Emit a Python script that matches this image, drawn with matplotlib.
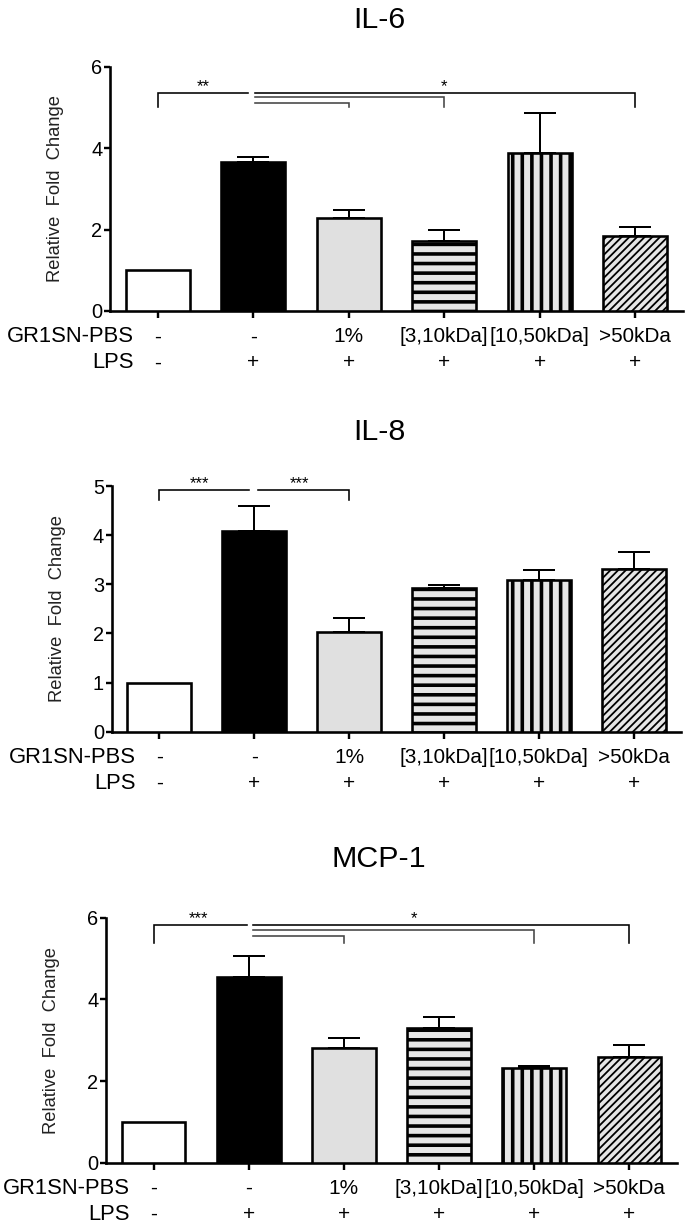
import matplotlib
matplotlib.use("Agg")
import matplotlib.pyplot as plt
import numpy as np

DPI = 115
PT = 72 / DPI   # points per pixel

plt.rcParams['font.family'] = ['Liberation Sans', 'DejaVu Sans']
plt.rcParams['hatch.linewidth'] = 3.6 * PT

# --- data ---
gr1sn_row = ['-', '-', '1%', '[3,10kDa]', '[10,50kDa]', '>50kDa']
lps_row = ['-', '+', '+', '+', '+', '+']

il6_mean = [1.0, 3.67, 2.29, 1.73, 3.87, 1.85]
il6_sem = [0.0, 0.12, 0.20, 0.27, 1.00, 0.21]

il8_mean = [1.0, 4.08, 2.03, 2.93, 3.09, 3.31]
il8_sem = [0.0, 0.51, 0.28, 0.05, 0.20, 0.35]

mcp1_mean = [1.0, 4.54, 2.80, 3.31, 2.33, 2.58]
mcp1_sem = [0.0, 0.53, 0.25, 0.25, 0.05, 0.30]

# significance brackets: (x start, x end, line y, drop to, which end drops)
il6_brackets = [(0, 0.95, 5.36, 5.0, 'left'),
                (1.02, 5, 5.36, 5.0, 'right'),
                (1.02, 3, 5.25, 5.0, 'right'),
                (1.02, 2, 5.12, 5.0, 'right')]
il6_stars = [(0.48, 5.36, '**'), (3.0, 5.36, '*')]

il8_brackets = [(0, 0.95, 4.92, 4.72, 'left'),
                (1.04, 2, 4.92, 4.72, 'right')]
il8_stars = [(0.42, 4.92, '***'), (1.48, 4.92, '***')]

mcp1_brackets = [(0, 0.98, 5.83, 5.38, 'left'),
                 (1.04, 5, 5.83, 5.38, 'right'),
                 (1.04, 4, 5.69, 5.38, 'right'),
                 (1.04, 2, 5.56, 5.38, 'right')]
mcp1_stars = [(0.47, 5.83, '***'), (2.74, 5.83, '*')]

fills = ['white', 'black', '#e0e0e0', '#e6e6e6', '#e6e6e6', '#e6e6e6']
hatches = [None, None, None, '--', '||', '/////']

W, H = 685, 1223
fig = plt.figure(figsize=(W / DPI, H / DPI), dpi=DPI)

# layout in pixels: left, right, top(ymax), bottom(0), title baseline
panels = [
    ('IL-6', il6_mean, il6_sem, il6_brackets, il6_stars, 6, [0, 2, 4, 6],
     (110, 683, 66.7, 311, 28)),
    ('IL-8', il8_mean, il8_sem, il8_brackets, il8_stars, 5, [0, 1, 2, 3, 4, 5],
     (111.7, 681.3, 486, 731.7, 440)),
    ('MCP-1', mcp1_mean, mcp1_sem, mcp1_brackets, mcp1_stars, 6, [0, 2, 4, 6],
     (106, 677, 917.7, 1162.7, 866.7)),
]

x = np.arange(6)
for title, mean, sem, brackets, stars, ymax, yticks, (l, r, t, b, tb) in panels:
    ax = fig.add_axes([l / W, 1 - b / H, (r - l) / W, (b - t) / H])
    bars = ax.bar(x, mean, width=0.67, color=fills, edgecolor='black',
                  linewidth=2.6 * PT, zorder=3)
    for patch, h in zip(bars, hatches):
        if h:
            patch.set_hatch(h)
            if h.startswith('/') and hasattr(patch, 'set_hatch_linewidth'):
                patch.set_hatch_linewidth(1.8 * PT)
    ax.errorbar(x[1:], mean[1:], yerr=[np.zeros(5), sem[1:]], fmt='none',
                ecolor='black', elinewidth=2 * PT, capsize=16 * PT,
                capthick=2 * PT, zorder=2)

    ax.set_xlim(-0.5, 5.5)
    ax.set_ylim(0, ymax)
    ax.set_yticks(yticks)
    ax.set_xticks(x)
    ax.set_xticklabels([])
    for s in ['top', 'right']:
        ax.spines[s].set_visible(False)
    for s in ['left', 'bottom']:
        ax.spines[s].set_linewidth(2.6 * PT)
    ax.tick_params(axis='y', direction='out', length=6 * PT, width=2.4 * PT,
                   labelsize=12.5, pad=1)
    ax.tick_params(axis='x', direction='out', length=7 * PT, width=2.4 * PT)
    ax.set_ylabel('Relative  Fold  Change', fontsize=11.5, color='#222')
    ax.yaxis.set_label_coords(-0.08, 0.5)

    # treatment rows under the axis
    for row, labels, off in [('GR1SN-PBS', gr1sn_row, -26), ('LPS', lps_row, -52)]:
        ax.annotate(row, xy=(-0.25, 0), xycoords='data',
                    xytext=(0, off * PT), textcoords='offset points',
                    ha='right', va='center', fontsize=13.8, annotation_clip=False)
        for xi, lab in zip(x, labels):
            ax.annotate(lab, xy=(xi, 0), xycoords='data',
                        xytext=(0, off * PT), textcoords='offset points',
                        ha='center', va='center', fontsize=13,
                        annotation_clip=False)

    # significance brackets
    for k, (x0, x1, y, yd, end) in enumerate(brackets):
        col = 'black' if k < 2 else '#444444'
        if end == 'left':
            xs, ys = [x0, x0, x1], [yd, y, y]
        else:
            xs, ys = [x0, x1, x1], [y, y, yd]
        ax.plot(xs, ys, color=col, lw=1.6 * PT, clip_on=False,
                solid_joinstyle='miter', zorder=4)
    for sx, sy, txt in stars:
        ax.annotate(txt, xy=(sx, sy), xytext=(0, 1.5 * PT),
                    textcoords='offset points', ha='center', va='baseline',
                    fontsize=10.5, annotation_clip=False)

    fig.text(379 / W, 1 - tb / H, title, ha='center', va='baseline',
             fontsize=19)

fig.savefig('out.png', dpi=DPI)
